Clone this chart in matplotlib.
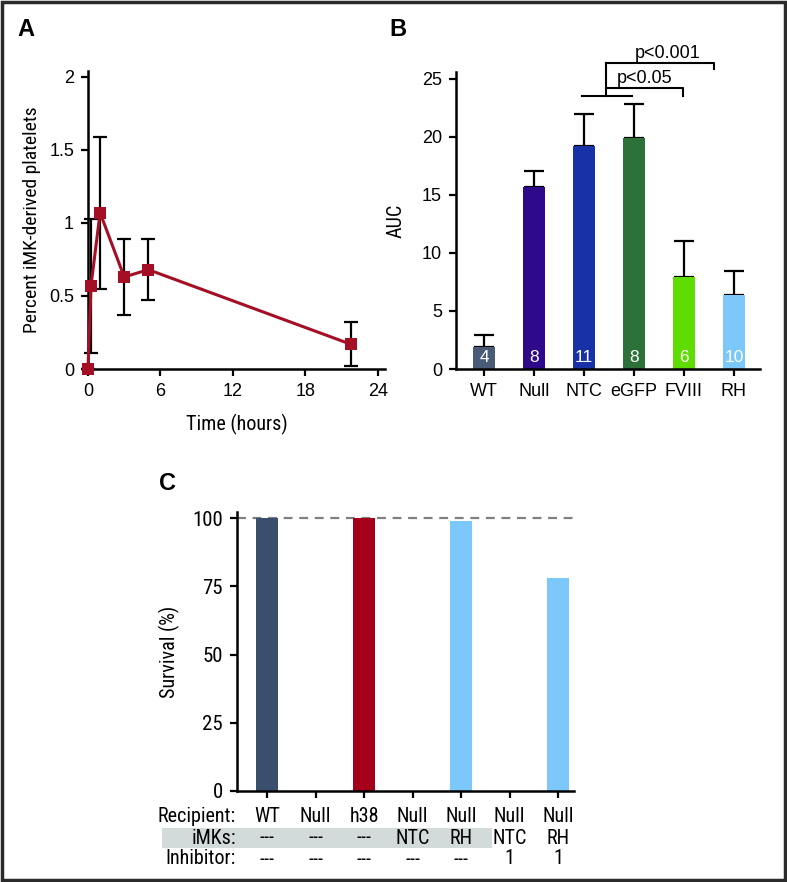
import matplotlib
matplotlib.use("Agg")
import matplotlib.pyplot as plt
from matplotlib.patches import Rectangle
from matplotlib.transforms import blended_transform_factory
from matplotlib import font_manager

# ---------------- data ----------------
# Panel A
time_h = [0, 0.25, 1, 3, 5, 21.75]
pct_platelets = [0.0, 0.57, 1.07, 0.63, 0.68, 0.17]
pct_err = [0.0, 0.46, 0.52, 0.26, 0.21, 0.15]
a_xticks = [0, 6, 12, 18, 24]
a_yticks = [0, 0.5, 1, 1.5, 2]
a_yticklabels = ["0", "0.5", "1", "1.5", "2"]

# Panel B
b_groups = ["WT", "Null", "NTC", "eGFP", "FVIII", "RH"]
b_auc = [1.9, 15.7, 19.2, 19.9, 7.9, 6.4]
b_err = [1.0, 1.35, 2.8, 2.9, 3.15, 2.05]
b_n = ["4", "8", "11", "8", "6", "10"]
b_colors = ["#4a5b78", "#2e0a8a", "#1632a6", "#2d713a", "#5fdc02", "#7cc8fb"]
b_yticks = [0, 5, 10, 15, 20, 25]

# Panel C
c_recipient = ["WT", "Null", "h38", "Null", "Null", "Null", "Null"]
c_imks = ["---", "---", "---", "NTC", "RH", "NTC", "RH"]
c_inhibitor = ["---", "---", "---", "---", "---", "1", "1"]
c_survival = [100, 0, 100, 0, 99, 0, 78]
c_colors = ["#3a4e6e", "#3a4e6e", "#a5001b", "#7cc8fb", "#7cc8fb", "#7cc8fb", "#7cc8fb"]
c_yticks = [0, 25, 50, 75, 100]

# ---------------- fonts ----------------
avail = {f.name for f in font_manager.fontManager.ttflist}
REG = "Liberation Sans" if "Liberation Sans" in avail else "DejaVu Sans"
NARROW = REG
for cand in ["Roboto Condensed", "Archivo Narrow", "PT Sans Narrow", "Liberation Sans Narrow"]:
    if cand in avail:
        NARROW = cand
        break
plt.rcParams["font.family"] = [REG, "DejaVu Sans"]

W, H = 787, 882
fig = plt.figure(figsize=(W / 100, H / 100), dpi=100)


def fx(px):
    return px / W


def fy(py):
    return 1 - py / H


def style_axes(ax, tick_font, tick_size):
    for s in ["top", "right"]:
        ax.spines[s].set_visible(False)
    for s in ["left", "bottom"]:
        ax.spines[s].set_linewidth(1.8)
        ax.spines[s].set_color("black")
    ax.tick_params(direction="out", length=5, width=1.6, colors="black",
                   labelsize=tick_size, pad=5)
    for lab in ax.get_xticklabels() + ax.get_yticklabels():
        lab.set_fontfamily(tick_font)


# ---------------- Panel A ----------------
axA = fig.add_axes([fx(88), fy(369), fx(297), (369 - 71) / H])
axA.errorbar(time_h, pct_platelets, yerr=pct_err, fmt="none", ecolor="black",
             elinewidth=1.6, capsize=5, capthick=1.6, zorder=2, clip_on=False)
axA.plot(time_h, pct_platelets, color="#a50f25", lw=2.2, marker="s",
         markersize=9, markeredgewidth=0, zorder=3, clip_on=False)
axA.set_xlim(0, 24.6)
axA.set_ylim(0, 2.04)
axA.set_xticks(a_xticks)
axA.set_yticks(a_yticks)
axA.set_yticklabels(a_yticklabels)
style_axes(axA, REG, 13)
axA.set_xlabel("Time (hours)", fontfamily=NARROW, fontsize=14.5, labelpad=10)
axA.set_ylabel("Percent iMK-derived platelets", fontfamily=NARROW, fontsize=14,
               labelpad=6)
fig.text(fx(26), fy(30), "A", fontsize=17, fontweight="bold", ha="center",
         va="center", fontfamily=REG)

# ---------------- Panel B ----------------
axB = fig.add_axes([fx(456), fy(369), fx(304), (369 - 72) / H])
xb = list(range(len(b_groups)))
axB.bar(xb, b_auc, width=0.45, color=b_colors, zorder=2)
axB.errorbar(xb, b_auc, yerr=[[0] * len(b_err), b_err], fmt="none",
             ecolor="black", elinewidth=1.6, capsize=7, capthick=1.6, zorder=1)
for xi, n in zip(xb, b_n):
    axB.text(xi, 1.0, n, color="white", ha="center", va="center", fontsize=12.5,
             fontfamily=REG, zorder=3)
axB.set_xlim(-0.56, 5.52)
axB.set_ylim(0, 25.6)
axB.set_xticks(xb)
axB.set_xticklabels(b_groups)
axB.set_yticks(b_yticks)
style_axes(axB, REG, 13)
axB.set_ylabel("AUC", fontfamily=NARROW, fontsize=14.5, labelpad=12)
# significance brackets
kw = dict(color="black", lw=1.5, clip_on=False)
axB.plot([1.96, 2.96], [23.5, 23.5], **kw)
axB.plot([2.44, 2.44], [23.5, 26.4], **kw)
axB.plot([2.44, 3.98, 3.98], [24.2, 24.2, 23.5], **kw)
axB.plot([2.44, 4.6, 4.6], [26.4, 26.4, 25.9], **kw)
axB.text(3.22, 24.3, "p<0.05", ha="center", va="bottom", fontsize=13,
         fontfamily=REG)
axB.text(3.68, 26.5, "p<0.001", ha="center", va="bottom", fontsize=13,
         fontfamily=REG)
fig.text(fx(398), fy(30), "B", fontsize=17, fontweight="bold", ha="center",
         va="center", fontfamily=REG)

# ---------------- Panel C ----------------
axC = fig.add_axes([fx(237), fy(791), fx(337), (791 - 512) / H])
xc = list(range(len(c_survival)))
axC.bar(xc, c_survival, width=0.44, color=c_colors, zorder=2)
axC.axhline(100, color="#808080", lw=1.6, ls=(0, (4, 3)), xmax=1.015,
            clip_on=False, zorder=1)
axC.set_xlim(-0.62, 6.33)
axC.set_ylim(0, 102.2)
axC.set_yticks(c_yticks)
axC.set_xticks(xc)
axC.set_xticklabels([])
style_axes(axC, NARROW, 15)
axC.set_ylabel("Survival (%)", fontfamily=NARROW, fontsize=14.5, labelpad=9)

tr = blended_transform_factory(axC.transData, fig.transFigure)
band = Rectangle((-2.16, fy(848)), 4.64 + 2.16, (848 - 828) / H,
                 transform=tr, facecolor="#d2dada", edgecolor="none",
                 clip_on=False, zorder=0)
fig.add_artist(band)
rows = [("Recipient:", c_recipient, 816), ("iMKs:", c_imks, 838),
        ("Inhibitor:", c_inhibitor, 859)]
for label, vals, py in rows:
    axC.text(-0.64, fy(py), label, transform=tr, ha="right", va="center",
             fontsize=14.5, fontfamily=NARROW)
    for xi, v in zip(xc, vals):
        axC.text(xi, fy(py), v, transform=tr, ha="center", va="center",
                 fontsize=14.5, fontfamily=NARROW)
fig.text(fx(167), fy(484), "C", fontsize=17, fontweight="bold", ha="center",
         va="center", fontfamily=REG)

# figure frame
fig.add_artist(Rectangle((0.002, 0.002), 0.996, 0.996, transform=fig.transFigure,
                         fill=False, edgecolor="#2b2b2b", lw=2.5))

fig.savefig("out.png", dpi=100)
